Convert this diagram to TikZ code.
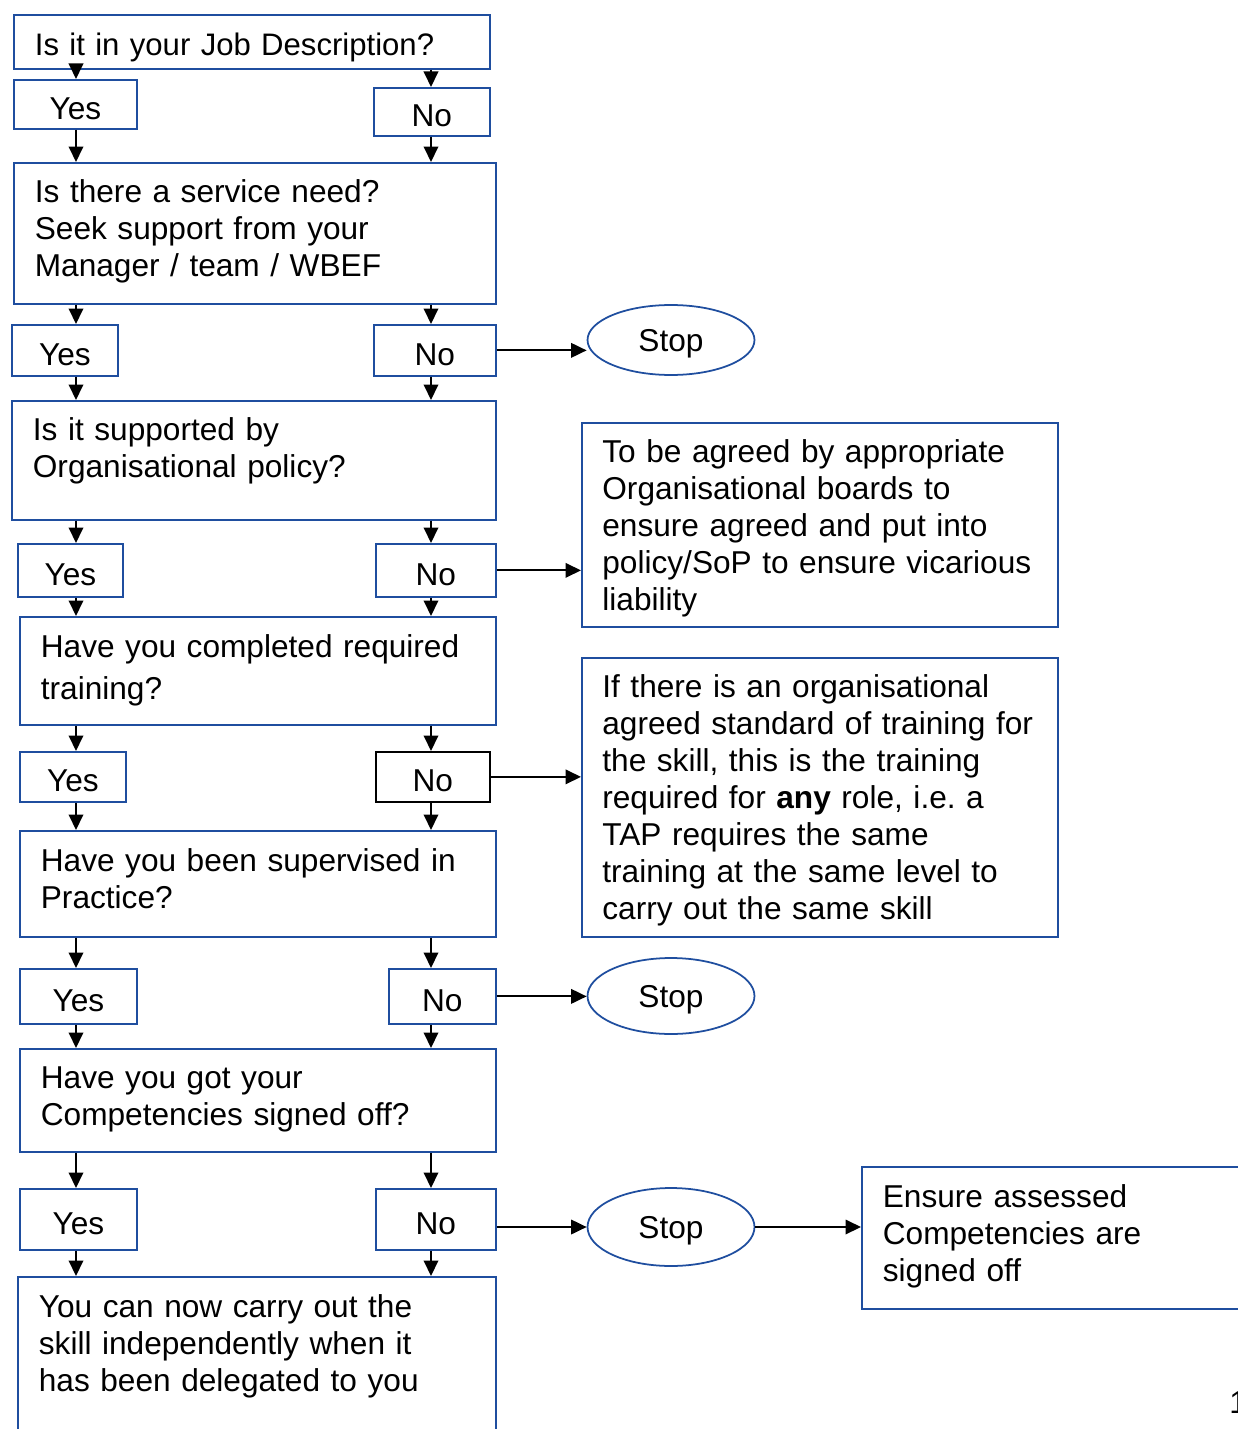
\documentclass[tikz,border=0pt]{standalone}
\usepackage{fontspec}
\setmainfont{Liberation Sans}
\usepackage{tikz}
\usetikzlibrary{positioning,arrows.meta,shapes.geometric}
\definecolor{fcBlue}{HTML}{1F4E9F}
\newcommand{\fcfont}{\fontsize{18}{21.05}\selectfont\frenchspacing}
\tikzset{
  fc-box/.style={
    draw=fcBlue, line width=1pt, fill=white, anchor=north west,
    align=left, inner xsep=0.42cm, inner ysep=0pt, font=\fcfont
  },
  fc-ans/.style={draw=fcBlue, line width=1pt, fill=white,
    anchor=north west, inner sep=0pt, font=\fcfont,
    text height=0.6cm, text depth=0pt},
  fc-ansk/.style={fc-ans, draw=black},
  fc-stop/.style={draw=fcBlue, line width=1pt, ellipse, fill=white,
    inner sep=0pt, minimum width=3.34cm, font=\fcfont, text depth=0pt},
  fc-flow/.style={-{Triangle[length=0.31cm,width=0.29cm]},
    line width=1.1pt, draw=black}
}

\begin{document}
\begin{tikzpicture}[x=0.02cm, y=-0.02cm]
\useasboundingbox (0,0) rectangle (1237,1429);
\coordinate (colL) at (76,0);
\coordinate (colR) at (431,0);

% questions
\node[fc-box, text width=8.68cm, text height=0.82cm, text depth=0.26cm,
  font=\fontsize{17.7}{21.05}\selectfont]
  (q1) at (13,14) {Is it in your Job Description?};
\node[fc-box, text width=8.80cm, text height=0.80cm, text depth=2.02cm]
  (q2) at (13,162) {Is there a service need?\\
  Seek support from your\\
  Manager / team / WBEF};
\node[fc-box, text width=8.84cm, text height=0.80cm, text depth=1.58cm]
  (q3) at (11,400) {Is it supported by\\
  Organisational policy?};
\node[fc-box, text width=8.68cm, text height=0.82cm, text depth=1.34cm]
  (q4) at (19,616) {Have you completed required\\[0.1cm]
  training?};
\node[fc-box, text width=8.68cm, text height=0.82cm, text depth=1.30cm]
  (q5) at (19,830) {Have you been supervised in\\
  Practice?};
\node[fc-box, text width=8.68cm, text height=0.80cm, text depth=1.26cm]
  (q6) at (19,1048) {Have you got your\\
  Competencies signed off?};
\node[fc-box, text width=8.72cm, text height=0.82cm, text depth=2.86cm]
  (done) at (17,1276) {You can now carry out the\\
  skill independently when it\\
  has been delegated to you};

% answers
\node[fc-ans, minimum width=2.46cm, minimum height=0.98cm] (y1) at (13,79) {Yes};
\node[fc-ans, minimum width=2.32cm, minimum height=0.96cm] (n1) at (373,87) {No};
\node[fc-ans, minimum width=2.12cm, minimum height=1.02cm] (y2) at (11,324) {Yes};
\node[fc-ans, minimum width=2.44cm, minimum height=1.02cm] (n2) at (373,324) {No};
\node[fc-ans, minimum width=2.10cm, minimum height=1.06cm] (y3) at (17,543) {Yes};
\node[fc-ans, minimum width=2.40cm, minimum height=1.06cm] (n3) at (375,543) {No};
\node[fc-ans, minimum width=2.12cm, minimum height=1.00cm] (y4) at (19,751) {Yes};
\node[fc-ansk, minimum width=2.28cm, minimum height=1.00cm] (n4) at (375,751) {No};
\node[fc-ans, minimum width=2.34cm, minimum height=1.10cm] (y5) at (19,968) {Yes};
\node[fc-ans, minimum width=2.14cm, minimum height=1.10cm] (n5) at (388,968) {No};
\node[fc-ans, minimum width=2.34cm, minimum height=1.22cm] (y6) at (19,1188) {Yes};
\node[fc-ans, minimum width=2.40cm, minimum height=1.22cm] (n6) at (375,1188) {No};

% stops and notes
\node[fc-stop, minimum height=1.40cm] (s1) at (671,340) {Stop};
\node[fc-stop, minimum height=1.52cm] (s2) at (671,996) {Stop};
\node[fc-stop, minimum height=1.56cm] (s3) at (671,1227) {Stop};

\node[fc-box, text width=8.70cm, inner xsep=0.41cm, text height=0.80cm,
  text depth=3.28cm] (boxa) at (581,422) {To be agreed by appropriate\\
  Organisational boards to\\
  ensure agreed and put into\\
  policy/SoP to ensure vicarious\\
  liability};
\node[fc-box, text width=8.70cm, inner xsep=0.41cm, text height=0.80cm,
  text depth=4.78cm] (boxb) at (581,657) {If there is an organisational\\
  agreed standard of training for\\
  the skill, this is the training\\
  required for \textbf{any} role, i.e. a\\
  TAP requires the same\\
  training at the same level to\\
  carry out the same skill};
\node[fc-box, text width=8.68cm, text height=0.82cm, text depth=2.02cm]
  (boxc) at (861,1166) {Ensure assessed\\
  Competencies are\\
  signed off};

\node[anchor=base west, inner sep=0pt, font=\fcfont] (pg) at (1229,1413) {1};

% left column
\draw[fc-flow] (q1.south -| colL) -- (y1.north -| colL);
\draw[fc-flow] (y1.south -| colL) -- (q2.north -| colL);
\draw[fc-flow] (q2.south -| colL) -- (y2.north -| colL);
\draw[fc-flow] (y2.south -| colL) -- (q3.north -| colL);
\draw[fc-flow] (q3.south -| colL) -- (y3.north -| colL);
\draw[fc-flow] (y3.south -| colL) -- (q4.north -| colL);
\draw[fc-flow] (q4.south -| colL) -- (y4.north -| colL);
\draw[fc-flow] (y4.south -| colL) -- (q5.north -| colL);
\draw[fc-flow] (q5.south -| colL) -- (y5.north -| colL);
\draw[fc-flow] (y5.south -| colL) -- (q6.north -| colL);
\draw[fc-flow] (q6.south -| colL) -- (y6.north -| colL);
\draw[fc-flow] (y6.south -| colL) -- (done.north -| colL);

% right column
\draw[fc-flow] (q1.south -| colR) -- (n1.north -| colR);
\draw[fc-flow] (n1.south -| colR) -- (q2.north -| colR);
\draw[fc-flow] (q2.south -| colR) -- (n2.north -| colR);
\draw[fc-flow] (n2.south -| colR) -- (q3.north -| colR);
\draw[fc-flow] (q3.south -| colR) -- (n3.north -| colR);
\draw[fc-flow] (n3.south -| colR) -- (q4.north -| colR);
\draw[fc-flow] (q4.south -| colR) -- (n4.north -| colR);
\draw[fc-flow] (n4.south -| colR) -- (q5.north -| colR);
\draw[fc-flow] (q5.south -| colR) -- (n5.north -| colR);
\draw[fc-flow] (n5.south -| colR) -- (q6.north -| colR);
\draw[fc-flow] (q6.south -| colR) -- (n6.north -| colR);
\draw[fc-flow] (n6.south -| colR) -- (done.north -| colR);

% side branches
\draw[fc-flow] (n2.east) -- (n2.east -| s1.west);
\draw[fc-flow] (n3.east) -- (n3.east -| boxa.west);
\draw[fc-flow] (n4.east) -- (n4.east -| boxb.west);
\draw[fc-flow] (n5.east) -- (n5.east -| s2.west);
\draw[fc-flow] (n6.east |- s3.west) -- (s3.west);
\draw[fc-flow] (s3.east) -- (s3.east -| boxc.west);
\end{tikzpicture}
\end{document}
